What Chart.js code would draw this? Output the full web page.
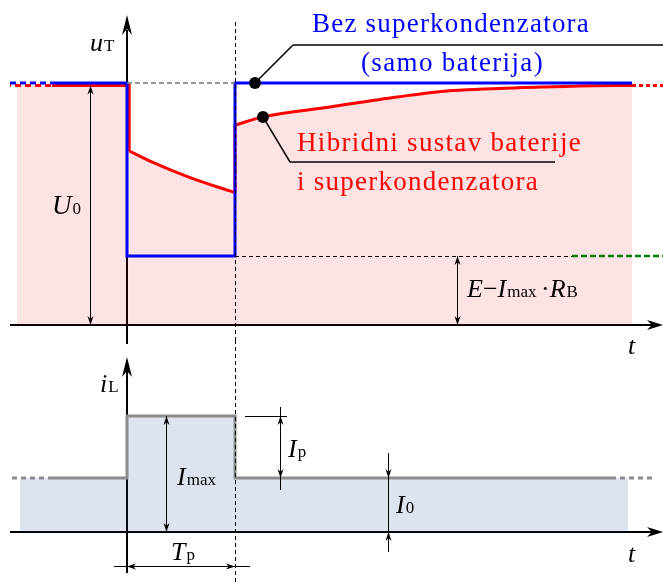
<!DOCTYPE html>
<html><head><meta charset="utf-8">
<script src="https://cdn.jsdelivr.net/npm/chart.js@4.4.0/dist/chart.umd.min.js"></script>
<style>
html,body{margin:0;padding:0;background:#fff;}
#wrap{position:relative;width:663px;height:584px;}
canvas{position:absolute;left:0;}
#top{top:0;} #bot{top:340px;}
</style></head><body>
<div id="wrap"><canvas id="top" width="663" height="340"></canvas><canvas id="bot" width="663" height="244"></canvas></div>
<script>
// time in units of the pulse length: pulse from t=0 to t=Tp=1
const tMin = -1.176, tMax = 4.963;
// upper plot: terminal voltage, U0 = 1
const uMin = -0.062, uMax = 1.343;
const tBlue = [-0.694, 0, 0, 1, 1, 4.676];
const uBlue = [1, 1, 0.285, 0.285, 1, 1];
// hybrid system, in pieces (steps are straight, curves smooth)
const tRedPre = [-0.694, 0.02, 0.02];
const uRedPre = [0.99, 0.99, 0.719];
const tRedPulse = [0.02, 0.24, 0.56, 0.86, 1];
const uRedPulse = [0.719, 0.672, 0.613, 0.567, 0.548];
const tRedJump = [1, 1];
const uRedJump = [0.548, 0.826];
const tRedRec = [1, 1.26, 1.88, 2.5, 2.96, 3.83, 4.19, 4.676];
const uRedRec = [0.826, 0.86, 0.901, 0.942, 0.967, 0.983, 0.988, 0.99];
const tFillStart = -1.019;
const tDashLeft = [-1.083, -0.694];
const tDashRight = [4.676, 4.963];
const tGreen = [4.12, 4.963];
const uLow = 0.285;
const tDots = [1.185, 1.259];
const uDots = [1, 0.86];
// lower plot: load current, I0 = 1
const iMin = -0.963, iMax = 3.556;
const tLoad = [-0.694, 0, 0, 1, 1, 4.5];
const iLoad = [1, 1, 2.148, 2.148, 1, 1];
const tLoadFill = [-0.991, 0, 0, 1, 1, 4.639];
const tLoadDashL = [-1.065, -0.694];
const tLoadDashR = [4.5, 4.861];

const zip = (xs, ys) => xs.map((x, i) => ({ x, y: ys[i] }));
const flat = (xs, y) => xs.map(x => ({ x, y }));

const SERIF = '"Liberation Serif", "DejaVu Serif", serif';
const PINK = 'rgba(240,0,0,0.11)';

function head(ctx, x, y, dx, dy, len, hw) {
  // filled arrow head, tip at (x,y) pointing along (dx,dy)
  const nx = -dy, ny = dx;
  ctx.beginPath();
  ctx.moveTo(x, y);
  ctx.lineTo(x - dx * len + nx * hw, y - dy * len + ny * hw);
  ctx.lineTo(x - dx * len * 0.7, y - dy * len * 0.7);
  ctx.lineTo(x - dx * len - nx * hw, y - dy * len - ny * hw);
  ctx.closePath();
  ctx.fill();
}
function line(ctx, x1, y1, x2, y2, w, color, dash) {
  w = w || 1;
  if (w === 1) { // keep thin rules crisp
    if (x1 === x2) x1 = x2 = Math.round(x1) + 0.5;
    if (y1 === y2) y1 = y2 = Math.round(y1) + 0.5;
  }
  ctx.save();
  ctx.strokeStyle = color || '#000'; ctx.lineWidth = w;
  ctx.setLineDash(dash || []);
  ctx.beginPath(); ctx.moveTo(x1, y1); ctx.lineTo(x2, y2); ctx.stroke();
  ctx.restore();
}
function dimV(ctx, x, y1, y2, ext1, ext2) {
  // vertical dimension line with heads pointing to y1 (up) and y2 (down)
  line(ctx, x, y1 - (ext1 || 0), x, y2 + (ext2 || 0), 1);
  ctx.fillStyle = '#000';
  head(ctx, x + 0.5, y1, 0, -1, 9, 3);
  head(ctx, x + 0.5, y2, 0, 1, 9, 3);
}
function txt(ctx, s, x, y, size, opt) {
  opt = opt || {};
  ctx.save();
  ctx.font = (opt.italic ? 'italic ' : '') + size + 'px ' + SERIF;
  ctx.fillStyle = opt.color || '#000';
  ctx.textBaseline = 'alphabetic';
  ctx.textAlign = 'left';
  if (opt.width) {
    ctx.letterSpacing = '0px';
    const w = ctx.measureText(s).width;
    ctx.letterSpacing = ((opt.width - w) / s.length) + 'px';
  }
  ctx.fillText(s, x, y);
  const w = ctx.measureText(s).width;
  ctx.restore();
  return x + w;
}
// symbol with upright subscript
function sym(ctx, main, sub, x, y, size) {
  const x2 = txt(ctx, main, x, y, size, { italic: true });
  return txt(ctx, sub, x2 + 1, y, Math.round(size * 0.64));
}

function overlay(under, over) {
  return {
    id: 'overlay',
    beforeDatasetsDraw(chart) {
      const s = chart.scales;
      under(chart.ctx, v => s.x.getPixelForValue(v), v => s.y.getPixelForValue(v));
    },
    afterDatasetsDraw(chart) {
      const s = chart.scales;
      over(chart.ctx, v => s.x.getPixelForValue(v), v => s.y.getPixelForValue(v));
    }
  };
}

function baseOptions(yMin, yMax) {
  return {
    responsive: false,
    devicePixelRatio: 1,
    animation: false,
    events: [],
    layout: { padding: 0, autoPadding: false },
    plugins: { legend: { display: false }, tooltip: { enabled: false } },
    elements: { point: { radius: 0 }, line: { tension: 0 } },
    scales: {
      x: { type: 'linear', min: tMin, max: tMax, display: false },
      y: { type: 'linear', min: yMin, max: yMax, display: false }
    }
  };
}

// ---------- upper chart ----------
const topUnder = (ctx, X, Y) => {
  ctx.fillStyle = '#000';
  line(ctx, 10, Y(0), 652, Y(0), 2);
  head(ctx, 663, Y(0), 1, 0, 16, 5);
  line(ctx, X(0), 30, X(0), 340, 2);
  head(ctx, X(0), 15, 0, -1, 20, 5);
};
const topOver = (ctx, X, Y) => {
  line(ctx, X(0), Y(1), X(1), Y(1), 1.3, '#777', [5, 3]);
  line(ctx, X(1), Y(uLow), X(tGreen[0]), Y(uLow), 1, '#000', [4, 3]);
  line(ctx, X(1), 22, X(1), 340, 1, '#000', [4, 3]);
  dimV(ctx, 90, Y(0.99), Y(0));
  dimV(ctx, 457, Y(uLow), Y(0));
  // leaders
  line(ctx, X(tDots[0]), Y(uDots[0]), 293, 45, 1.5);
  line(ctx, 293, 45, 663, 45, 1.5);
  line(ctx, X(tDots[1]), Y(uDots[1]), 290, 162, 1.5);
  line(ctx, 290, 162, 555, 162, 1.5);
  // labels
  txt(ctx, 'Bez superkondenzatora', 312, 32, 27, { color: '#0000ff', width: 278 });
  txt(ctx, '(samo baterija)', 361, 71, 27, { color: '#0000ff', width: 183 });
  txt(ctx, 'Hibridni sustav baterije', 297, 151, 27, { color: '#ff0000', width: 285 });
  txt(ctx, 'i superkondenzatora', 297, 190, 27, { color: '#ff0000', width: 242 });
  sym(ctx, 'u', 'T', 90, 51, 26);
  sym(ctx, 'U', '0', 52, 214, 27);
  let x = txt(ctx, 'E', 467, 297, 26, { italic: true });
  x = txt(ctx, '\u2212', x, 297, 26);
  x = sym(ctx, 'I', 'max', x, 297, 26);
  x = txt(ctx, ' \u00b7', x - 2, 297, 26);
  sym(ctx, 'R', 'B', x, 297, 26);
};

const redLine = { borderColor: '#ff0000', borderWidth: 3 };
const redFill = { borderWidth: 0, borderColor: 'rgba(0,0,0,0)', fill: 'origin', backgroundColor: PINK, order: 9 };

new Chart(document.getElementById('top'), {
  type: 'line',
  data: {
    datasets: [
      { data: zip(tDots, uDots), showLine: false, pointRadius: 6, pointBackgroundColor: '#000', pointBorderWidth: 0, order: 0 },
      { data: zip(tBlue, uBlue), borderColor: '#0000ff', borderWidth: 3, order: 1 },
      { ...redLine, data: zip(tRedPre, uRedPre), order: 2 },
      { ...redLine, data: zip(tRedPulse, uRedPulse), cubicInterpolationMode: 'monotone', order: 2 },
      { ...redLine, data: zip(tRedJump, uRedJump), order: 2 },
      { ...redLine, data: zip(tRedRec, uRedRec), cubicInterpolationMode: 'monotone', order: 2 },
      { data: flat(tDashLeft, 1), borderColor: '#0000ff', borderWidth: 3, borderDash: [6, 4], order: 3 },
      { data: flat(tDashLeft, 0.99), borderColor: '#ff0000', borderWidth: 3, borderDash: [6, 4], borderDashOffset: 5, order: 4 },
      { data: flat(tDashRight, 0.99), borderColor: '#ff0000', borderWidth: 3, borderDash: [4, 3], order: 5 },
      { data: flat(tGreen, uLow), borderColor: '#008000', borderWidth: 2.5, borderDash: [6, 3], order: 6 },
      { ...redFill, data: flat([tFillStart, tRedPre[1]], uRedPre[0]) },
      { ...redFill, data: zip(tRedPulse, uRedPulse), cubicInterpolationMode: 'monotone' },
      { ...redFill, data: zip(tRedRec, uRedRec), cubicInterpolationMode: 'monotone' }
    ]
  },
  options: baseOptions(uMin, uMax),
  plugins: [overlay(topUnder, topOver)]
});

// ---------- lower chart ----------
const botUnder = (ctx, X, Y) => {
  ctx.fillStyle = '#000';
  line(ctx, 10, Y(0), 652, Y(0), 2);
  head(ctx, 663, Y(0), 1, 0, 16, 5);
  line(ctx, X(0), 0, X(0), 4, 2);
  line(ctx, X(0), 30, X(0), 233, 2);
  head(ctx, X(0), 17, 0, -1, 20, 5);
};
const botOver = (ctx, X, Y) => {
  line(ctx, X(1), 0, X(1), 244, 1, '#000', [4, 3]);
  dimV(ctx, 166, Y(iLoad[2]), Y(0));
  // I_p
  line(ctx, 245, Y(iLoad[2]), 287, Y(iLoad[2]), 1);
  dimV(ctx, 280, Y(iLoad[2]), Y(1), 9, 12);
  // I_0, arrows from outside
  line(ctx, 388, 113, 388, 212, 1);
  ctx.fillStyle = '#000';
  head(ctx, 388.5, Y(1), 0, 1, 9, 3);
  head(ctx, 388.5, Y(0), 0, -1, 9, 3);
  // T_p
  line(ctx, 114, 226, 250, 226, 1);
  head(ctx, X(0), 226.5, -1, 0, 9, 3);
  head(ctx, X(1), 226.5, 1, 0, 9, 3);
  sym(ctx, 'i', 'L', 100, 52, 26);
  sym(ctx, 'I', 'max', 177, 145, 26);
  sym(ctx, 'I', 'p', 288, 117, 26);
  sym(ctx, 'I', '0', 396, 173, 26);
  sym(ctx, 'T', 'p', 171, 220, 26);
  txt(ctx, 't', 628, 14, 26, { italic: true });   // time label of the upper plot
  txt(ctx, 't', 628, 222, 26, { italic: true });
};

new Chart(document.getElementById('bot'), {
  type: 'line',
  data: {
    datasets: [
      { data: zip(tLoad, iLoad), borderColor: '#8c8c8c', borderWidth: 3, order: 1 },
      { data: flat(tLoadDashL, 1), borderColor: '#8c8c8c', borderWidth: 3, borderDash: [5, 4], order: 2 },
      { data: flat(tLoadDashR, 1), borderColor: '#8c8c8c', borderWidth: 3, borderDash: [5, 4], borderDashOffset: 2, order: 3 },
      { data: zip(tLoadFill, iLoad), borderWidth: 0, borderColor: 'rgba(0,0,0,0)',
        fill: 'origin', backgroundColor: 'rgba(40,80,160,0.155)', order: 9 }
    ]
  },
  options: baseOptions(iMin, iMax),
  plugins: [overlay(botUnder, botOver)]
});
</script>
</body></html>
